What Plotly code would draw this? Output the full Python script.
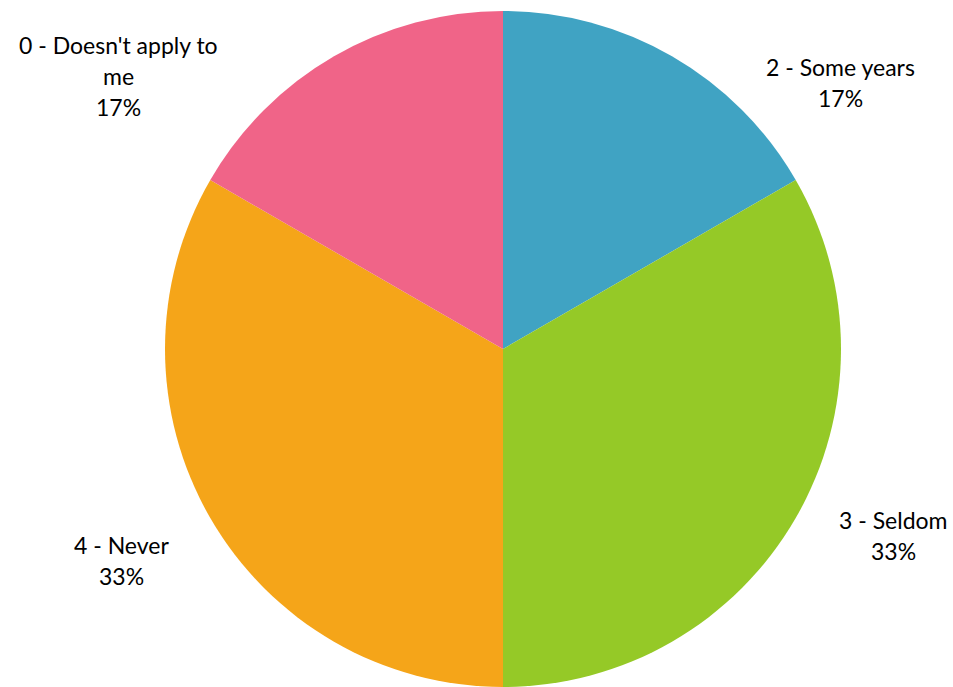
import plotly.graph_objects as go

# Survey responses, clockwise from 12 o'clock
categories = ["2 - Some years", "3 - Seldom", "4 - Never", "0 - Doesn't apply to me"]
counts = [1, 2, 2, 1]
colors = ["#40A3C3", "#95C927", "#F5A519", "#F06488"]

# Wrapped label lines and their anchor centres (pixels from top-left)
label_lines = [["2 - Some years"], ["3 - Seldom"], ["4 - Never"], ["0 - Doesn't apply to", "me"]]
label_pos = [(840, 67), (893, 520), (122, 545), (118, 45)]

W, H = 953, 687
cx, cy, r = 503, 349, 338

fig = go.Figure(go.Pie(
    labels=categories,
    values=counts,
    marker=dict(colors=colors, line=dict(width=0)),
    sort=False,
    direction="clockwise",
    rotation=0,
    textinfo="none",
    hoverinfo="label+percent",
    domain=dict(x=[(cx - r) / W, (cx + r) / W], y=[(H - cy - r) / H, (H - cy + r) / H]),
    showlegend=False,
))

total = sum(counts)
line_h = 31
annotations = []
for lines, (x0, y0), v in zip(label_lines, label_pos, counts):
    pct = f"{round(100 * v / total)}%"
    for i, t in enumerate(lines + [pct]):
        annotations.append(dict(
            x=x0 / W, y=1 - (y0 + i * line_h) / H, xref="paper", yref="paper",
            text=t, showarrow=False, xanchor="center", yanchor="middle",
            font=dict(family="Lato, Carlito, sans-serif", size=23, color="#000000"),
        ))

fig.update_layout(
    width=W, height=H,
    margin=dict(l=0, r=0, t=0, b=0),
    paper_bgcolor="white",
    plot_bgcolor="white",
    annotations=annotations,
)

fig.write_html("out.html")
